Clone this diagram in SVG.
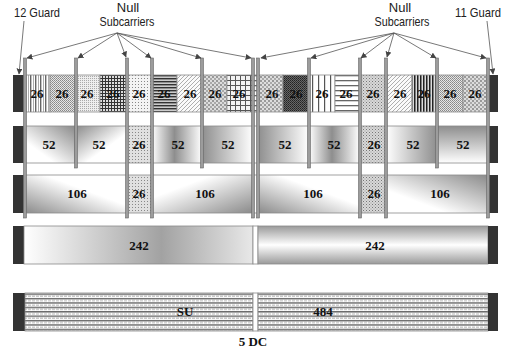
<svg xmlns="http://www.w3.org/2000/svg" width="509" height="354" viewBox="0 0 509 354">
<style>
.guard{fill:#333;}
.blk{stroke:#8a8a8a;stroke-width:0.8;}
.lbl{font-family:"Liberation Serif",serif;font-weight:bold;font-size:13px;text-anchor:middle;fill:#111;}
.ann{font-family:"Liberation Sans",Arial,sans-serif;font-size:13px;fill:#222;}
.bar{fill:#9c9c9c;stroke:#666;stroke-width:0.6;}
.arr{stroke:#555;stroke-width:0.8;fill:none;marker-end:url(#ah);}
</style>
<defs>
<marker id="ah" viewBox="0 0 10 10" refX="9" refY="5" markerWidth="6" markerHeight="6" orient="auto" markerUnits="userSpaceOnUse"><path d="M0,0 L10,5 L0,10 z" fill="#444"/></marker>
<pattern id="pV1" width="5" height="4" patternUnits="userSpaceOnUse"><rect width="5" height="4" fill="#fff"/><rect x="0" width="1.4" height="4" fill="#666"/><rect x="3" width="0.8" height="4" fill="#999"/></pattern>
<pattern id="pCk1" width="2" height="2" patternUnits="userSpaceOnUse"><rect width="2" height="2" fill="#e6e6e6"/><rect width="1" height="1" fill="#888"/><rect x="1" y="1" width="1" height="1" fill="#999"/></pattern>
<pattern id="pCk2" width="2" height="2" patternUnits="userSpaceOnUse"><rect width="2" height="2" fill="#eee"/><rect width="1" height="1" fill="#aaa"/></pattern>
<pattern id="pGrid1" width="3" height="3" patternUnits="userSpaceOnUse"><rect width="3" height="3" fill="#ddd"/><rect width="3" height="1" fill="#333"/><rect width="1" height="3" fill="#333"/></pattern>
<pattern id="pDot" width="3" height="3" patternUnits="userSpaceOnUse"><rect width="3" height="3" fill="#f4f4f4"/><rect width="1" height="1" fill="#888"/></pattern>
<pattern id="pH1" width="4" height="3" patternUnits="userSpaceOnUse"><rect width="4" height="3" fill="#ccc"/><rect width="4" height="1.4" fill="#333"/></pattern>
<pattern id="pDiag" width="4" height="4" patternUnits="userSpaceOnUse"><rect width="4" height="4" fill="#fafafa"/><path d="M-1,1 L1,-1 M0,4 L4,0 M3,5 L5,3" stroke="#999" stroke-width="0.8"/></pattern>
<pattern id="pCk3" width="4" height="4" patternUnits="userSpaceOnUse"><rect width="4" height="4" fill="#ddd"/><rect width="2" height="2" fill="#999"/><rect x="2" y="2" width="2" height="2" fill="#aaa"/></pattern>
<pattern id="pGrid2" width="5" height="5" patternUnits="userSpaceOnUse"><rect width="5" height="5" fill="#f2f2f2"/><rect width="5" height="1" fill="#555"/><rect width="1" height="5" fill="#555"/></pattern>
<pattern id="pDark" width="2" height="2" patternUnits="userSpaceOnUse"><rect width="2" height="2" fill="#666"/><rect width="1" height="1" fill="#222"/><rect x="1" y="1" width="1" height="1" fill="#333"/></pattern>
<pattern id="pV2" width="6" height="4" patternUnits="userSpaceOnUse"><rect width="6" height="4" fill="#fff"/><rect x="0" width="1.2" height="4" fill="#555"/></pattern>
<pattern id="pH2" width="4" height="5" patternUnits="userSpaceOnUse"><rect width="4" height="5" fill="#fff"/><rect width="4" height="1.3" fill="#666"/></pattern>
<pattern id="pV3" width="3" height="4" patternUnits="userSpaceOnUse"><rect width="3" height="4" fill="#ddd"/><rect x="0" width="1.5" height="4" fill="#222"/></pattern>
<pattern id="pDot2" width="3" height="3" patternUnits="userSpaceOnUse"><rect width="3" height="3" fill="#d8d8d8"/><rect width="1" height="1" fill="#777"/><rect x="1.5" y="1.5" width="1" height="1" fill="#999"/></pattern>
<pattern id="pDot3" width="3" height="3" patternUnits="userSpaceOnUse"><rect width="3" height="3" fill="#e0e0e0"/><rect width="1" height="1" fill="#888"/></pattern>
<pattern id="pLines" width="8" height="4.4" patternUnits="userSpaceOnUse" y="293.5"><rect width="8" height="4.4" fill="#fff"/><rect y="0" width="8" height="1.4" fill="#666"/><path d="M0,2.8 H8" stroke="#999" stroke-width="0.8" stroke-dasharray="3,1"/></pattern>
<linearGradient id="gLR" x1="0" y1="0" x2="1" y2="0"><stop offset="0" stop-color="#8e8e8e"/><stop offset="1" stop-color="#fff"/></linearGradient>
<linearGradient id="gRL" x1="0" y1="0" x2="1" y2="0"><stop offset="0" stop-color="#fff"/><stop offset="1" stop-color="#8e8e8e"/></linearGradient>
<linearGradient id="gMid" x1="0" y1="0" x2="1" y2="0"><stop offset="0" stop-color="#fff"/><stop offset="0.45" stop-color="#8e8e8e"/><stop offset="1" stop-color="#fff"/></linearGradient>
<linearGradient id="gTB" x1="0" y1="0" x2="0" y2="1"><stop offset="0" stop-color="#8e8e8e"/><stop offset="1" stop-color="#fff"/></linearGradient>
<linearGradient id="gD1" x1="0" y1="0" x2="1" y2="1"><stop offset="0" stop-color="#8a8a8a"/><stop offset="0.6" stop-color="#fff"/></linearGradient>
<linearGradient id="gD2" x1="0" y1="0" x2="1" y2="1"><stop offset="0.3" stop-color="#fff"/><stop offset="1" stop-color="#8a8a8a"/></linearGradient>
<linearGradient id="gD3" x1="0" y1="1" x2="1" y2="0"><stop offset="0" stop-color="#8a8a8a"/><stop offset="0.6" stop-color="#fff"/></linearGradient>
<linearGradient id="gD4" x1="0" y1="1" x2="1" y2="0"><stop offset="0.3" stop-color="#fff"/><stop offset="1" stop-color="#8a8a8a"/></linearGradient>
<linearGradient id="g242L" x1="0" y1="0" x2="1" y2="0"><stop offset="0" stop-color="#fff"/><stop offset="0.6" stop-color="#a2a2a2"/><stop offset="1" stop-color="#e8e8e8"/></linearGradient>
<linearGradient id="gCyl" x1="0" y1="0" x2="0" y2="1"><stop offset="0" stop-color="#9a9a9a"/><stop offset="0.5" stop-color="#fff"/><stop offset="1" stop-color="#9a9a9a"/></linearGradient>
</defs>

<!-- annotations -->
<g id="annotations">
<text class="ann" x="14" y="17" textLength="46" lengthAdjust="spacingAndGlyphs">12 Guard</text>
<text class="ann" x="128" y="12" text-anchor="middle">Null</text>
<text class="ann" x="127" y="26" text-anchor="middle" textLength="55" lengthAdjust="spacingAndGlyphs">Subcarriers</text>
<text class="ann" x="400" y="12" text-anchor="middle">Null</text>
<text class="ann" x="402" y="26" text-anchor="middle" textLength="55" lengthAdjust="spacingAndGlyphs">Subcarriers</text>
<text class="ann" x="455" y="17" textLength="46" lengthAdjust="spacingAndGlyphs">11 Guard</text>
</g>

<!-- Row 1: 26-tone RUs -->
<g id="row26">
<rect class="guard" x="13" y="75" width="11" height="37"/>
<rect class="blk" x="24" y="75" width="26" height="37" fill="url(#pV1)"/>
<rect class="blk" x="50" y="75" width="25" height="37" fill="url(#pCk1)"/>
<rect class="blk" x="75" y="75" width="25" height="37" fill="url(#pCk2)"/>
<rect class="blk" x="100" y="75" width="27" height="37" fill="url(#pGrid1)"/>
<rect class="blk" x="127" y="75" width="25" height="37" fill="url(#pDot)"/>
<rect class="blk" x="152" y="75" width="25" height="37" fill="url(#pH1)"/>
<rect class="blk" x="177" y="75" width="25" height="37" fill="url(#pDiag)"/>
<rect class="blk" x="202" y="75" width="25" height="37" fill="url(#pCk3)"/>
<rect class="blk" x="227" y="75" width="26" height="37" fill="url(#pGrid2)"/>
<rect class="blk" x="253" y="75" width="5" height="37" fill="url(#pH2)"/>
<rect class="blk" x="258" y="75" width="25" height="37" fill="url(#pCk3)"/>
<rect class="blk" x="283" y="75" width="25" height="37" fill="url(#pDark)"/>
<rect class="blk" x="308" y="75" width="27" height="37" fill="url(#pV2)"/>
<rect class="blk" x="335" y="75" width="25" height="37" fill="url(#pH2)"/>
<rect class="blk" x="360" y="75" width="27" height="37" fill="url(#pDot2)"/>
<rect class="blk" x="387" y="75" width="25" height="37" fill="url(#pDiag)"/>
<rect class="blk" x="412" y="75" width="25" height="37" fill="url(#pV3)"/>
<rect class="blk" x="437" y="75" width="26" height="37" fill="url(#pCk1)"/>
<rect class="blk" x="463" y="75" width="25" height="37" fill="url(#pCk3)"/>
<rect class="guard" x="488" y="75" width="10" height="37"/>
<text class="lbl" x="37" y="98">26</text>
<text class="lbl" x="62" y="98">26</text>
<text class="lbl" x="87" y="98">26</text>
<text class="lbl" x="113" y="98">26</text>
<text class="lbl" x="139" y="98">26</text>
<text class="lbl" x="164" y="98">26</text>
<text class="lbl" x="190" y="98">26</text>
<text class="lbl" x="215" y="98">26</text>
<text class="lbl" x="239" y="98">26</text>
<text class="lbl" x="272" y="98">26</text>
<text class="lbl" x="296" y="98">26</text>
<text class="lbl" x="322" y="98">26</text>
<text class="lbl" x="346" y="98">26</text>
<text class="lbl" x="373" y="98">26</text>
<text class="lbl" x="400" y="98">26</text>
<text class="lbl" x="424" y="98">26</text>
<text class="lbl" x="450" y="98">26</text>
<text class="lbl" x="475" y="98">26</text>
</g>

<!-- Row 2: 52-tone RUs -->
<g id="row52">
<rect class="guard" x="13" y="126" width="11" height="37"/>
<rect class="blk" x="24" y="126" width="51" height="37" fill="url(#gD4)"/>
<rect class="blk" x="75" y="126" width="52" height="37" fill="url(#gD1)"/>
<rect class="blk" x="127" y="126" width="25" height="37" fill="url(#pDot3)"/>
<rect class="blk" x="152" y="126" width="50" height="37" fill="url(#gMid)"/>
<rect class="blk" x="202" y="126" width="51" height="37" fill="url(#gLR)"/>
<rect class="blk" x="253" y="126" width="5" height="37" fill="#fff"/>
<rect class="blk" x="258" y="126" width="51" height="37" fill="url(#gLR)"/>
<rect class="blk" x="309" y="126" width="51" height="37" fill="url(#gMid)"/>
<rect class="blk" x="360" y="126" width="26" height="37" fill="url(#pDot2)"/>
<rect class="blk" x="386" y="126" width="51" height="37" fill="url(#gRL)"/>
<rect class="blk" x="437" y="126" width="51" height="37" fill="url(#gTB)"/>
<rect class="guard" x="488" y="126" width="10" height="37"/>
<text class="lbl" x="49" y="149">52</text>
<text class="lbl" x="99" y="149">52</text>
<text class="lbl" x="139" y="149">26</text>
<text class="lbl" x="178" y="149">52</text>
<text class="lbl" x="228" y="149">52</text>
<text class="lbl" x="285" y="149">52</text>
<text class="lbl" x="334" y="149">52</text>
<text class="lbl" x="374" y="149">26</text>
<text class="lbl" x="413" y="149">52</text>
<text class="lbl" x="463" y="149">52</text>
</g>

<!-- Row 3: 106-tone RUs -->
<g id="row106">
<rect class="guard" x="13" y="175" width="11" height="38"/>
<rect class="blk" x="24" y="175" width="103" height="38" fill="url(#gD3)"/>
<rect class="blk" x="127" y="175" width="25" height="38" fill="url(#pDot3)"/>
<rect class="blk" x="152" y="175" width="101" height="38" fill="url(#gD2)"/>
<rect class="blk" x="253" y="175" width="5" height="38" fill="#fff"/>
<rect class="blk" x="258" y="175" width="102" height="38" fill="url(#gD3)"/>
<rect class="blk" x="360" y="175" width="26" height="38" fill="url(#pDot2)"/>
<rect class="blk" x="386" y="175" width="102" height="38" fill="url(#gD4)"/>
<rect class="guard" x="488" y="175" width="10" height="38"/>
<text class="lbl" x="77" y="198">106</text>
<text class="lbl" x="139" y="198">26</text>
<text class="lbl" x="205" y="198">106</text>
<text class="lbl" x="313" y="198">106</text>
<text class="lbl" x="374" y="198">26</text>
<text class="lbl" x="440" y="198">106</text>
</g>

<!-- Row 4: 242-tone RUs -->
<g id="row242">
<rect class="guard" x="13" y="226" width="11" height="38"/>
<rect class="blk" x="24" y="226" width="229" height="38" fill="url(#g242L)"/>
<rect class="blk" x="253" y="226" width="5" height="38" fill="#fff"/>
<rect class="blk" x="258" y="226" width="230" height="38" fill="url(#gCyl)"/>
<rect class="guard" x="488" y="226" width="10" height="38"/>
<text class="lbl" x="139" y="250">242</text>
<text class="lbl" x="375" y="250">242</text>
</g>

<!-- Row 5: 484-tone RU -->
<g id="row484">
<rect class="guard" x="13" y="293" width="12" height="38"/>
<rect class="blk" x="25" y="293" width="228" height="38" fill="url(#pLines)"/>
<rect class="blk" x="253" y="293" width="5" height="38" fill="#fff"/>
<rect class="blk" x="258" y="293" width="230" height="38" fill="url(#pLines)"/>
<rect class="guard" x="488" y="293" width="10" height="38"/>
<text class="lbl" x="185" y="316">SU</text>
<text class="lbl" x="323" y="316">484</text>
<text class="lbl" x="253" y="346">5 DC</text>
</g>

<!-- null subcarrier bars and arrows -->
<g id="connectors">
<rect class="bar" x="23.5" y="58" width="3" height="160"/>
<rect class="bar" x="74.5" y="58" width="3" height="110"/>
<rect class="bar" x="125.5" y="58" width="3" height="160"/>
<rect class="bar" x="150.5" y="58" width="3" height="160"/>
<rect class="bar" x="200.5" y="58" width="3" height="110"/>
<rect class="bar" x="251.5" y="58" width="3" height="160"/>
<rect class="bar" x="256.5" y="58" width="3" height="160"/>
<rect class="bar" x="307.5" y="58" width="3" height="110"/>
<rect class="bar" x="358.5" y="58" width="3" height="160"/>
<rect class="bar" x="384.5" y="58" width="3" height="160"/>
<rect class="bar" x="435.5" y="58" width="3" height="110"/>
<rect class="bar" x="486.5" y="58" width="3" height="160"/>
<line class="arr" x1="117" y1="33" x2="27" y2="58"/>
<line class="arr" x1="117" y1="33" x2="78" y2="58"/>
<line class="arr" x1="117" y1="33" x2="126" y2="57"/>
<line class="arr" x1="117" y1="33" x2="151" y2="58"/>
<line class="arr" x1="117" y1="33" x2="201" y2="58"/>
<line class="arr" x1="117" y1="33" x2="251" y2="58"/>
<line class="arr" x1="394" y1="33" x2="261" y2="58"/>
<line class="arr" x1="394" y1="33" x2="311" y2="58"/>
<line class="arr" x1="394" y1="33" x2="361" y2="58"/>
<line class="arr" x1="394" y1="33" x2="387" y2="57"/>
<line class="arr" x1="394" y1="33" x2="436" y2="58"/>
<line class="arr" x1="394" y1="33" x2="486" y2="58"/>
<line class="arr" x1="24" y1="21" x2="19" y2="74"/>
<line class="arr" x1="487" y1="21" x2="493" y2="74"/>
</g>
</svg>
